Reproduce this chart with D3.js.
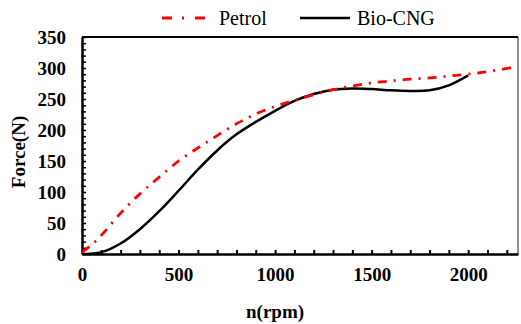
<!DOCTYPE html>
<html>
<head>
<meta charset="utf-8">
<script src="https://cdn.jsdelivr.net/npm/d3@7"></script>
<style>
  body { margin: 0; background: #fff; }
  text { font-family: "Liberation Serif", "Times New Roman", serif; }
</style>
</head>
<body>
<div id="chart"></div>
<script>
const petrolRpm = [0, 50, 100, 200, 300, 400, 500, 600, 700, 800, 900, 1000, 1100, 1200, 1300, 1400, 1500, 1600, 1700, 1800, 1900, 2000, 2100, 2250];
const petrolForce = [3, 15, 30, 66, 97, 124, 150, 171, 191, 210, 226, 238, 248, 257, 265, 271, 276, 279, 282, 284, 287, 290, 294, 302];
const cngRpm = [0, 100, 200, 300, 400, 500, 600, 700, 800, 900, 1000, 1100, 1200, 1300, 1400, 1500, 1600, 1700, 1800, 1900, 2000];
const cngForce = [0, 3, 17, 40, 69, 102, 136, 167, 193, 213, 231, 247, 258, 265, 267, 266, 264, 263, 264, 272, 288];
const xTicks = [0, 500, 1000, 1500, 2000];
const yTicks = [0, 50, 100, 150, 200, 250, 300, 350];

const width = 521, height = 324;
const margin = {top: 37, right: 3, bottom: 70, left: 82};
const w = width - margin.left - margin.right;
const h = height - margin.top - margin.bottom;

const svg = d3.select('#chart').append('svg')
  .attr('width', width)
  .attr('height', height);

const g = svg.append('g')
  .attr('transform', `translate(${margin.left},${margin.top})`);

const x = d3.scaleLinear().domain([0, 2258]).range([0, w]);
const y = d3.scaleLinear().domain([0, 350]).range([h, 0]);

// minor inner ticks
g.append('g')
  .call(d3.axisBottom(x).tickValues(d3.range(100, 2258, 100)).tickSize(-4).tickFormat(''))
  .attr('transform', `translate(0,${h})`)
  .call(s => s.select('.domain').remove())
  .selectAll('line').attr('stroke-width', 2);
g.append('g')
  .call(d3.axisLeft(y).tickValues(d3.range(10, 351, 10)).tickSize(-4).tickFormat(''))
  .call(s => s.select('.domain').remove())
  .selectAll('line').attr('stroke-width', 1.5);

// frame
g.append('line').attr('x1', 0).attr('x2', w).attr('y1', 0).attr('y2', 0)
  .attr('stroke', '#000').attr('stroke-width', 2);
g.append('line').attr('x1', w).attr('x2', w).attr('y1', 0).attr('y2', h)
  .attr('stroke', '#222').attr('stroke-width', 1);

// axes with labels
const xAxis = g.append('g')
  .attr('transform', `translate(0,${h})`)
  .call(d3.axisBottom(x).tickValues(xTicks).tickFormat(d3.format('d')).tickSize(0).tickPadding(14));
const yAxis = g.append('g')
  .call(d3.axisLeft(y).tickValues(yTicks).tickSize(0).tickPadding(16));
[xAxis, yAxis].forEach(a => {
  a.select('.domain').attr('stroke-width', 2.5);
  a.selectAll('text')
    .style('font-family', '"Liberation Serif", serif')
    .style('font-size', '19px')
    .style('font-weight', 'bold')
    .attr('fill', '#000');
});

// lines
const petrol = petrolRpm.map((r, i) => [r, petrolForce[i]]);
const cng = cngRpm.map((r, i) => [r, cngForce[i]]);
const line = d3.line().x(d => x(d[0])).y(d => y(d[1])).curve(d3.curveCatmullRom.alpha(0.5));

g.append('path').datum(cng)
  .attr('d', line)
  .attr('fill', 'none').attr('stroke', '#000').attr('stroke-width', 2.5);
g.append('path').datum(petrol)
  .attr('d', line)
  .attr('fill', 'none').attr('stroke', '#ff0000').attr('stroke-width', 2.8)
  .attr('stroke-dasharray', '9,7,2,7');

// axis titles
svg.append('text')
  .attr('x', margin.left + x(1000))
  .attr('y', 318)
  .attr('text-anchor', 'middle')
  .style('font-size', '19px').style('font-weight', 'bold')
  .text('n(rpm)');
svg.append('text')
  .attr('transform', 'translate(25,152) rotate(-90)')
  .attr('text-anchor', 'middle')
  .style('font-size', '19px').style('font-weight', 'bold')
  .text('Force(N)');

// legend
const legend = svg.append('g');
legend.append('line').attr('x1', 162).attr('x2', 207).attr('y1', 18).attr('y2', 18)
  .attr('stroke', '#ff0000').attr('stroke-width', 3).attr('stroke-dasharray', '10,10,2,11');
legend.append('text').attr('x', 219).attr('y', 25).style('font-size', '20px').text('Petrol');
legend.append('line').attr('x1', 300).attr('x2', 350).attr('y1', 18).attr('y2', 18)
  .attr('stroke', '#000').attr('stroke-width', 2.5);
legend.append('text').attr('x', 357).attr('y', 25).style('font-size', '20px').text('Bio-CNG');
</script>
</body>
</html>
